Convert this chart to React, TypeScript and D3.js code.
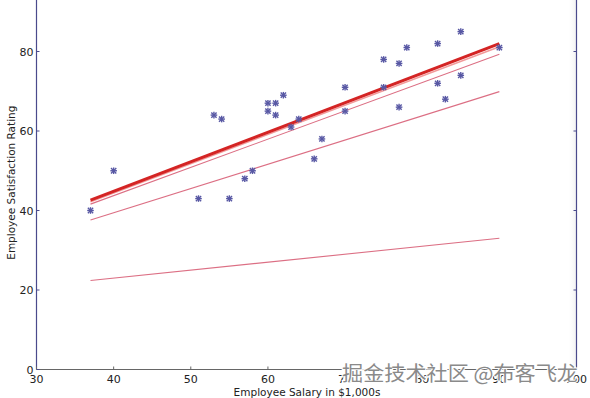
import React from "react";
import * as d3 from "d3";

const salary = [37, 40, 53, 54, 60, 61, 60, 61, 62, 63, 64, 67, 66, 58, 57, 51, 55, 70, 70, 75, 75, 77, 78, 77, 82, 82, 83, 85, 85, 90];
const rating = [40, 50, 64, 63, 67, 67, 65, 64, 69, 61, 63, 58, 53, 50, 48, 43, 43, 71, 65, 78, 71, 77, 81, 66, 82, 72, 68, 85, 74, 81];

// fitted lines: [x0, y0, x1, y1]
const lineStarts = [22.4, 37.6, 41.6, 42.2, 42.6];
const lineEnds = [33.0, 69.9, 79.3, 81.2, 82.0];
const lineX = [37, 90];
const lineColors = ["#dc6f84", "#dc6f84", "#dc6f84", "#f29a9a", "#d42424"];
const lineWidths = [1.1, 1.1, 1.1, 1.6, 3];

const xTicks = [30, 40, 50, 60, 70, 80, 90, 100];
const yTicks = [0, 20, 40, 60, 80];

export default function App() {
  const W = 590, H = 398;
  const x = d3.scaleLinear().domain([30, 100]).range([36.5, 576.5]);
  const y = d3.scaleLinear().domain([0, 100]).range([369.5, -28]);
  const font = "DejaVu Sans, Verdana, sans-serif";
  const axisBlue = "#4a4a8c";
  const line = d3.line<[number, number]>().x((d) => x(d[0])).y((d) => y(d[1]));
  const r = 3.3;
  return (
    <svg width={W} height={H} style={{ position: "absolute", left: 0, top: 0, background: "#fff" }}>
      <rect x={0} y={0} width={W} height={H} fill="#fff" />
      <defs>
        <linearGradient id="shade" x1="0" x2="1" y1="0" y2="0">
          <stop offset="0" stopColor="#f4f4f4" stopOpacity={0} />
          <stop offset="1" stopColor="#e8e8e8" stopOpacity={0.6} />
        </linearGradient>
      </defs>
      <rect x={x(100) - 8} y={0} width={8} height={y(0)} fill="url(#shade)" />
      {/* axes */}
      <line x1={x(30)} x2={x(30)} y1={y(100)} y2={y(0)} stroke={axisBlue} strokeWidth={1.2} />
      <line x1={x(100)} x2={x(100)} y1={y(100)} y2={y(0)} stroke={axisBlue} strokeWidth={1.2} />
      <line x1={x(30)} x2={x(100)} y1={y(0)} y2={y(0)} stroke="#666" strokeWidth={1.2} />
      {yTicks.map((t) => (
        <g key={"y" + t}>
          <line x1={x(30)} x2={x(30) + 3} y1={y(t)} y2={y(t)} stroke={axisBlue} />
          <line x1={x(100)} x2={x(100) - 3} y1={y(t)} y2={y(t)} stroke={axisBlue} />
          <text x={x(30) - 3} y={y(t) + 4} fontSize={11} fontFamily={font} textAnchor="end" fill="#222">
            {t}
          </text>
        </g>
      ))}
      {xTicks.map((t) => (
        <g key={"x" + t}>
          <line x1={x(t)} x2={x(t)} y1={y(0)} y2={y(0) - 3} stroke="#666" />
          <text x={x(t)} y={383} fontSize={11} fontFamily={font} textAnchor="middle" fill="#222">
            {t}
          </text>
        </g>
      ))}
      {/* regression lines */}
      {lineStarts.map((s, i) => (
        <path
          key={"l" + i}
          d={line([[lineX[0], s], [lineX[1], lineEnds[i]]]) || ""}
          stroke={lineColors[i]}
          strokeWidth={lineWidths[i]}
          fill="none"
        />
      ))}
      {/* points */}
      {salary.map((s, i) => {
        const cx = x(s), cy = y(rating[i]);
        return (
          <g key={"p" + i} stroke="#5858a4" strokeWidth={1.4}>
            <line x1={cx - r} x2={cx + r} y1={cy} y2={cy} />
            <line x1={cx} x2={cx} y1={cy - r} y2={cy + r} />
            <line x1={cx - r * 0.8} x2={cx + r * 0.8} y1={cy - r * 0.8} y2={cy + r * 0.8} />
            <line x1={cx - r * 0.8} x2={cx + r * 0.8} y1={cy + r * 0.8} y2={cy - r * 0.8} />
          </g>
        );
      })}
      {/* axis labels */}
      <text x={307} y={396} fontSize={10.5} fontFamily={font} textAnchor="middle" fill="#222">
        Employee Salary in $1,000s
      </text>
      <text
        transform={`translate(15, ${y(47)}) rotate(-90)`}
        fontSize={10.5}
        fontFamily={font}
        textAnchor="middle"
        fill="#222"
      >
        Employee Satisfaction Rating
      </text>
      {/* watermark */}
      <text
        x={342}
        y={381}
        fontSize={20}
        fontFamily="Noto Sans CJK SC, sans-serif"
        fill="#8a8a8a"
        stroke="#fff"
        strokeWidth={2}
        paintOrder="stroke"
        textLength={236}
        lengthAdjust="spacingAndGlyphs"
      >
        掘金技术社区 @布客飞龙
      </text>
    </svg>
  );
}
